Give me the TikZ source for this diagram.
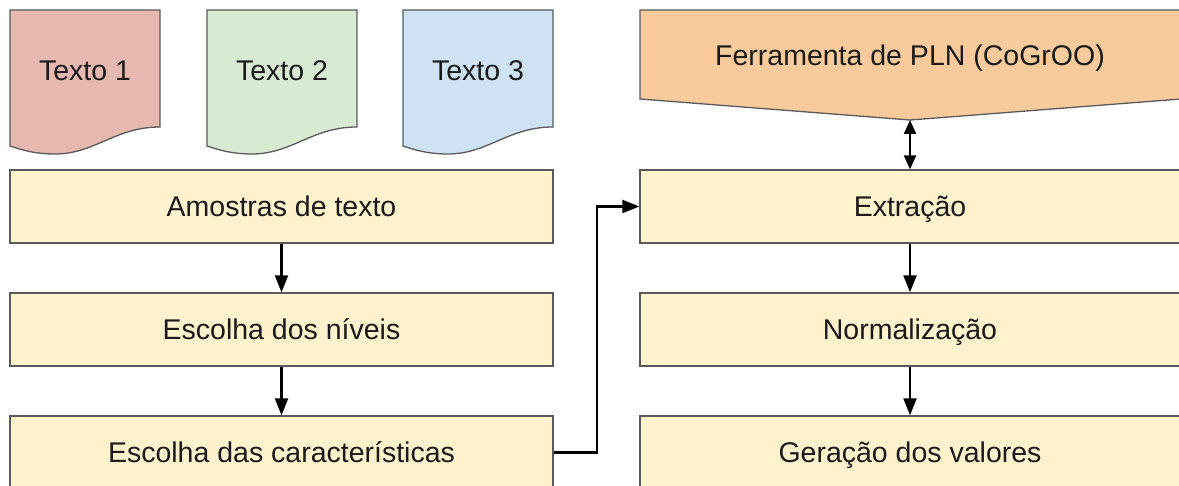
\documentclass[tikz,border=0pt]{standalone}
\usepackage{fontspec}
\setmainfont{Liberation Sans}
\usetikzlibrary{arrows.meta}
\definecolor{docred}{HTML}{E6B8AF}
\definecolor{docgreen}{HTML}{D9EAD3}
\definecolor{docblue}{HTML}{CFE2F3}
\definecolor{boxyellow}{HTML}{FFF2CC}
\definecolor{toolorange}{HTML}{F9CB9C}
\definecolor{edgegray}{HTML}{5A5A5A}
\definecolor{inkblack}{HTML}{1A1A1A}
\begin{document}
\begin{tikzpicture}[x=1pt,y=-1pt,
  outline/.style={draw=edgegray,line width=1.3pt,line join=miter},
  label/.style={text=inkblack,font=\fontsize{28.5pt}{34pt}\selectfont,inner sep=0pt,
                text height=20.4pt,text depth=0pt},
  leftbox/.style={outline,label,fill=boxyellow,rectangle,minimum width=543pt,minimum height=73pt},
  rightbox/.style={outline,label,fill=boxyellow,rectangle,minimum width=540pt,minimum height=73pt},
  flow/.style={draw=black,line width=2.2pt,-{Triangle[length=17pt,width=13pt]}},
  twoway/.style={draw=black,line width=2.2pt,{Triangle[length=14pt,width=12pt]}-{Triangle[length=14pt,width=12pt]}}]

\clip (0,0) rectangle (1179,486);
\fill[white] (0,0) rectangle (1179,486);

% document shapes with a wavy lower edge
\foreach \xo/\col/\n/\name in {10/docred/1/texto1,207/docgreen/2/texto2,403/docblue/3/texto3}{
  \draw[outline,fill=\col]
    (\xo,10) -- (\xo+150,10) -- (\xo+150,127)
    .. controls (\xo+105,127) and (\xo+85,154) .. (\xo+45,154)
    .. controls (\xo+25,154) and (\xo+12,150) .. (\xo,146) -- cycle;
  \node[label] (\name) at (\xo+75,70) {Texto \n};
}

% left column
\node[leftbox] (amostras) at (281.5,206.5) {Amostras de texto};
\node[leftbox] (niveis)   at (281.5,329.5) {Escolha dos níveis};
\node[leftbox] (caract)   at (281.5,452.5) {Escolha das características};

% right column
\draw[outline,fill=toolorange]
  (640,10) -- (1181,10) -- (1181,99) -- (910,120) -- (640,99) -- cycle;
\node[label] (ferramenta) at (910,55.8) {Ferramenta de PLN (CoGrOO)};
\coordinate (ferrtip) at (910,120);

\node[rightbox] (extracao) at (910,206.5) {Extração};
\node[rightbox] (normal)   at (910,329.5) {Normalização};
\node[rightbox] (geracao)  at (910,452.5) {Geração dos valores};

% connectors
\draw[flow] (amostras.south) -- (niveis.north);
\draw[flow] (niveis.south) -- (caract.north);
\draw[flow] (caract.east) -- ++(43,0) |- (extracao.west);
\draw[twoway] (ferrtip) -- (extracao.north);
\draw[flow] (extracao.south) -- (normal.north);
\draw[flow] (normal.south) -- (geracao.north);
\end{tikzpicture}
\end{document}
